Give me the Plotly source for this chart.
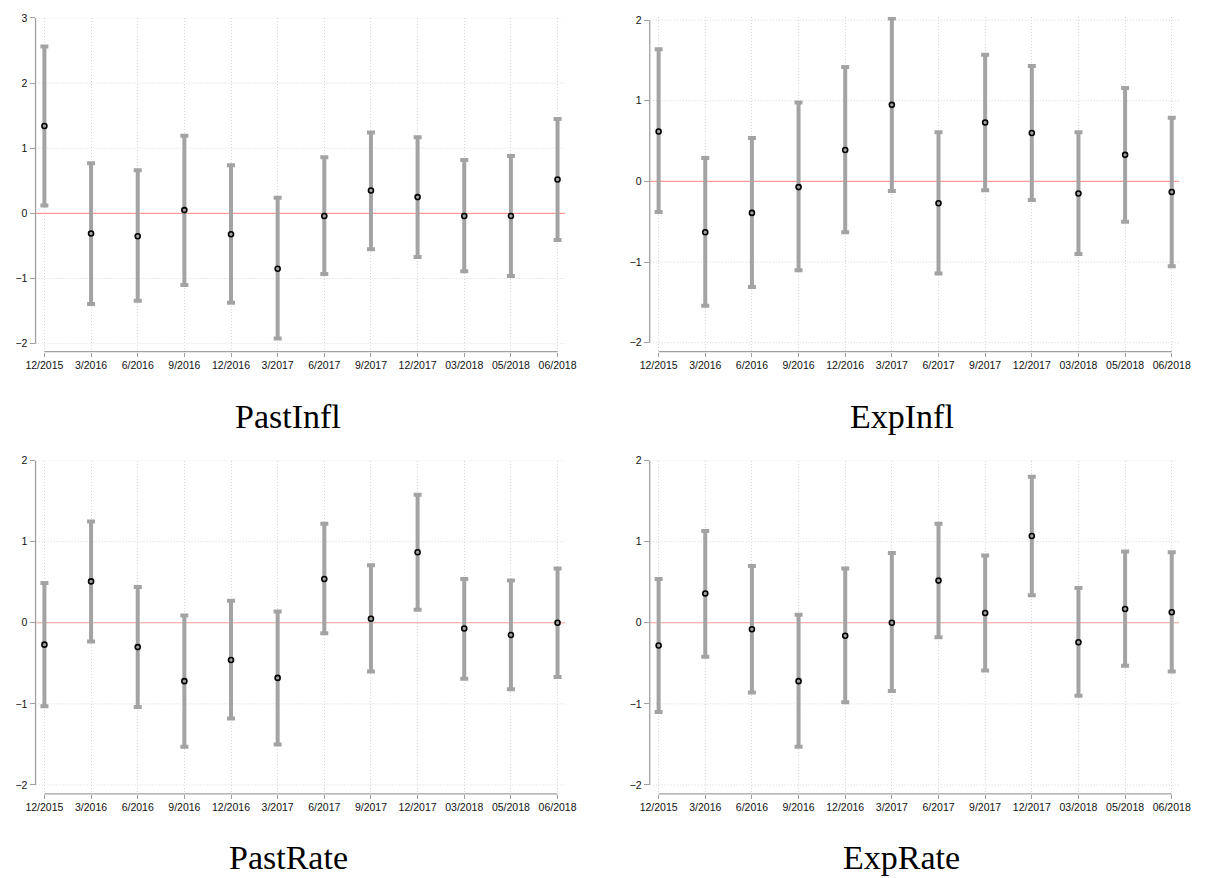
import plotly.graph_objects as go

# ---------------- data ----------------
dates = ["12/2015", "3/2016", "6/2016", "9/2016", "12/2016", "3/2017",
         "6/2017", "9/2017", "12/2017", "03/2018", "05/2018", "06/2018"]

past_infl_est = [1.34, -0.31, -0.35, 0.05, -0.32, -0.85, -0.04, 0.35, 0.25, -0.04, -0.04, 0.52]
past_infl_lo = [0.12, -1.39, -1.34, -1.10, -1.37, -1.92, -0.93, -0.55, -0.67, -0.89, -0.96, -0.41]
past_infl_hi = [2.56, 0.77, 0.66, 1.19, 0.74, 0.24, 0.86, 1.24, 1.17, 0.82, 0.88, 1.45]

exp_infl_est = [0.62, -0.63, -0.39, -0.07, 0.39, 0.95, -0.27, 0.73, 0.60, -0.15, 0.33, -0.13]
exp_infl_lo = [-0.38, -1.54, -1.31, -1.10, -0.63, -0.12, -1.14, -0.11, -0.23, -0.90, -0.50, -1.05]
exp_infl_hi = [1.64, 0.29, 0.54, 0.98, 1.42, 2.02, 0.61, 1.57, 1.43, 0.61, 1.16, 0.79]

past_rate_est = [-0.27, 0.51, -0.30, -0.72, -0.46, -0.68, 0.54, 0.05, 0.87, -0.07, -0.15, 0.00]
past_rate_lo = [-1.03, -0.23, -1.04, -1.53, -1.18, -1.50, -0.13, -0.60, 0.16, -0.69, -0.82, -0.67]
past_rate_hi = [0.49, 1.25, 0.44, 0.09, 0.27, 0.14, 1.22, 0.71, 1.58, 0.54, 0.52, 0.67]

exp_rate_est = [-0.28, 0.36, -0.08, -0.72, -0.16, 0.00, 0.52, 0.12, 1.07, -0.24, 0.17, 0.13]
exp_rate_lo = [-1.10, -0.42, -0.86, -1.53, -0.98, -0.84, -0.18, -0.59, 0.34, -0.90, -0.53, -0.60]
exp_rate_hi = [0.54, 1.13, 0.70, 0.10, 0.67, 0.86, 1.22, 0.83, 1.80, 0.43, 0.88, 0.87]

titles = ["PastInfl", "ExpInfl", "PastRate", "ExpRate"]
y_ticks = [[-2, -1, 0, 1, 2, 3], [-2, -1, 0, 1, 2], [-2, -1, 0, 1, 2], [-2, -1, 0, 1, 2]]
reference_value = 0

panels = [
    (past_infl_est, past_infl_lo, past_infl_hi),
    (exp_infl_est, exp_infl_lo, exp_infl_hi),
    (past_rate_est, past_rate_lo, past_rate_hi),
    (exp_rate_est, exp_rate_lo, exp_rate_hi),
]

# ---------------- layout geometry (pixels) ----------------
W, H = 1216, 878
BAR = "#a3a3a3"
AXIS = "#a0a0a0"
GRID = "#d6d6d6"
ZERO = "#ff9a9a"
X_RANGE = [-0.19, 11.165]

# (x_left, x_right, y_top, y_bottom, y_range_bottom, y_range_top)
geo = [
    (26, 565, 12, 348, -2.122, 3.0),
    (651, 1190, 11, 348, -2.11, 2.04),
    (26, 565, 457.7, 793.3, -2.11, 2.0),
    (651, 1190, 457.7, 793.3, -2.11, 2.0),
]
title_pos = [(283, 413), (908, 413), (283, 857.5), (907, 857.5)]

x_idx = list(range(len(dates)))

fig = go.Figure()
shapes = []
annotations = []

for k, ((est, lo, hi), (xl, xr, yt, yb, r0, r1)) in enumerate(zip(panels, geo)):
    n = "" if k == 0 else str(k + 1)
    xa, ya = "x" + n, "y" + n
    plus = [h - e for h, e in zip(hi, est)]
    minus = [e - l for e, l in zip(est, lo)]
    # zero reference line (drawn as first trace so it lies under the bars)
    fig.add_trace(go.Scatter(
        x=X_RANGE, y=[reference_value, reference_value], xaxis=xa, yaxis=ya,
        mode="lines", line=dict(color=ZERO, width=1.2),
        showlegend=False, hoverinfo="skip",
    ))
    fig.add_trace(go.Scatter(
        x=x_idx, y=est, xaxis=xa, yaxis=ya, mode="markers",
        marker=dict(symbol="circle-open", size=5, color="black", line=dict(width=1.6)),
        error_y=dict(type="data", symmetric=False, array=plus, arrayminus=minus,
                     color=BAR, thickness=4, width=4),
        cliponaxis=False,
        showlegend=False, hoverinfo="skip",
    ))
    xkey = "xaxis" + n
    ykey = "yaxis" + n
    fig.layout[xkey] = dict(
        domain=[xl / W, xr / W], anchor=ya,
        range=X_RANGE, tickmode="array", tickvals=x_idx, ticktext=dates,
        showgrid=True, gridcolor=GRID, griddash="1px,2px", gridwidth=1,
        ticks="outside", ticklen=4, tickwidth=1.3, tickcolor=AXIS,
        showline=False, zeroline=False,
        tickfont=dict(family="Liberation Sans, Arial", size=10.5, color="#111"),
        fixedrange=True,
    )
    fig.layout[ykey] = dict(
        domain=[1 - yb / H, 1 - yt / H], anchor=xa,
        range=[r0, r1], tickmode="array", tickvals=y_ticks[k],
        showgrid=False,
        ticks="outside", ticklen=5, tickwidth=1.3, tickcolor=AXIS,
        showline=False, zeroline=False,
        tickfont=dict(family="Liberation Sans, Arial", size=10.5, color="#111"),
        fixedrange=True,
    )
    # horizontal dotted gridlines at the non-zero y ticks
    for tv in y_ticks[k]:
        if tv != reference_value:
            shapes.append(dict(type="line", xref=xa + " domain", yref=ya,
                               x0=0, x1=1, y0=tv, y1=tv, layer="below",
                               line=dict(color=GRID, width=1, dash="1px,2px")))
    # x axis line spanning first to last category
    shapes.append(dict(type="line", xref=xa, yref=ya + " domain",
                       x0=0, x1=len(dates) - 1, y0=0, y1=0,
                       line=dict(color=AXIS, width=1.3)))
    # y axis line spanning tick range
    shapes.append(dict(type="line", xref=xa + " domain", yref=ya,
                       x0=0, x1=0, y0=y_ticks[k][0], y1=y_ticks[k][-1],
                       line=dict(color=AXIS, width=1.3)))
    tx, ty = title_pos[k]
    annotations.append(dict(text=titles[k], xref="paper", yref="paper",
                            x=tx / W, y=1 - ty / H, xanchor="center", yanchor="middle",
                            showarrow=False,
                            font=dict(family="Liberation Serif, Times New Roman, serif",
                                      size=34, color="black")))

fig.update_layout(
    width=W, height=H, margin=dict(l=0, r=0, t=0, b=0),
    paper_bgcolor="white", plot_bgcolor="white",
    shapes=shapes, annotations=annotations, showlegend=False,
)

fig.write_html("out.html", config={"displayModeBar": False},
               post_script="document.body.style.margin='0';document.body.style.overflow='hidden';")
